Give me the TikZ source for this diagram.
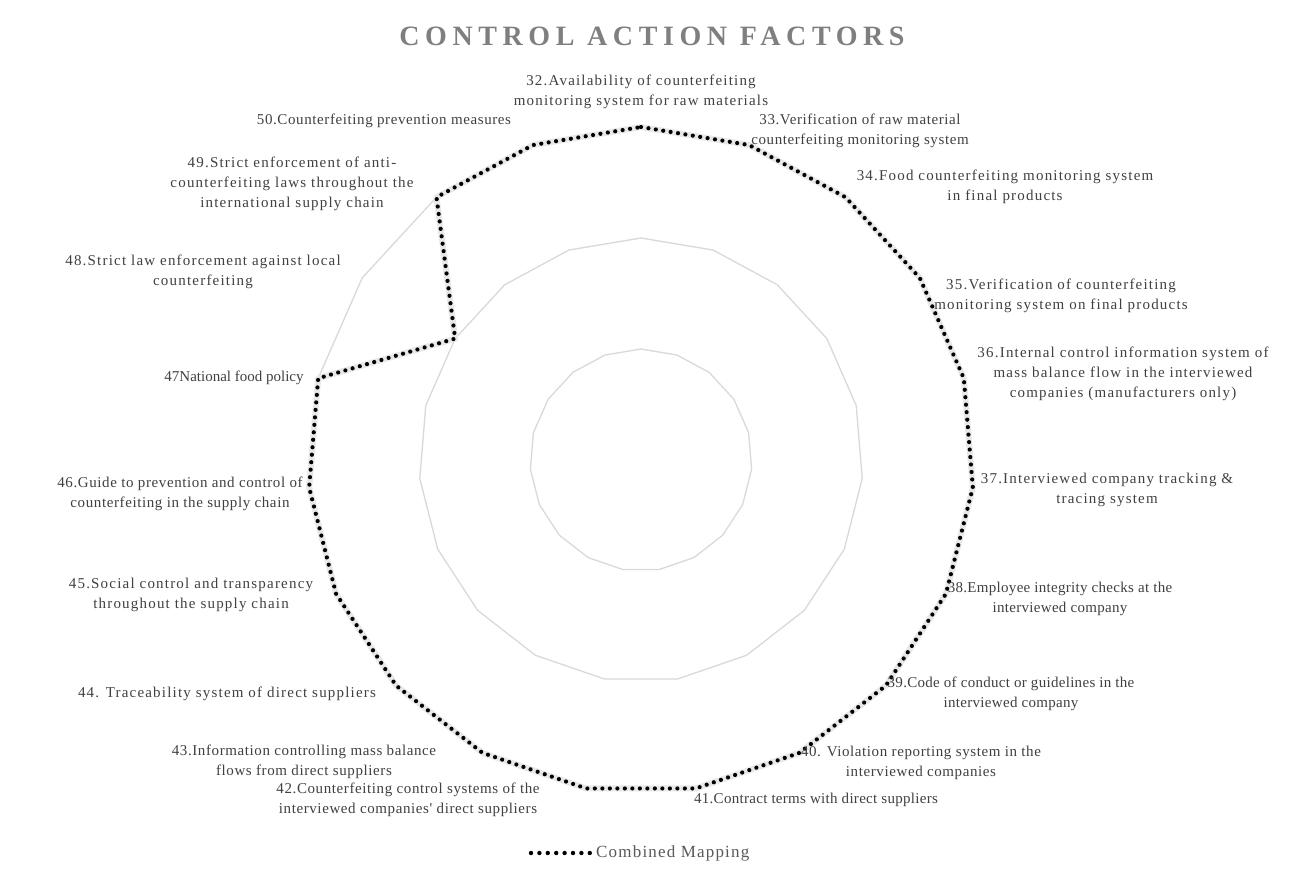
\documentclass[tikz,border=0pt]{standalone}
\usepackage{fontspec}
\setmainfont{Liberation Serif}
\newfontfamily\titlefont[LetterSpace=20]{Liberation Serif}
\newfontfamily\lblfont{Liberation Serif}
\usetikzlibrary{calc}
\definecolor{ringgray}{HTML}{D9D9D9}
\definecolor{labelgray}{HTML}{404040}
\definecolor{titlegray}{HTML}{7F7F7F}
\tikzset{
  ring/.style={draw=ringgray, line width=1.3pt, line join=round},
  dataline/.style={draw=black, line width=4.2pt, line cap=round, dash pattern=on 0pt off 7.5pt},
  datashadow/.style={draw=black!9, line width=6pt, line join=round},
  lbl/.style={text=labelgray, align=center, inner sep=0pt,
    font=\lblfont\addfontfeature{LetterSpace=#1}\fontsize{15}{20}\selectfont},
  lbl/.default=4,
}
\begin{document}
\begin{tikzpicture}[x=1pt,y=-1pt]
\useasboundingbox (0,0) rectangle (1289,868);
\fill[white] (0,0) rectangle (1289,868);
\coordinate (c) at (641,460);
% grid rings
\foreach \r in {111,222,333}{
  \draw[ring] ({641+\r*cos(90)},{460-\r*sin(90)})
    \foreach \k in {1,...,18}{ -- ({641+\r*cos(90-\k*360/19)},{460-\r*sin(90-\k*360/19)}) } -- cycle;
}
% data vertices
\foreach \k/\v in {0/3,1/3,2/3,3/3,4/3,5/3,6/3,7/3,8/3,9/3,10/3,11/3,12/3,13/3,14/3,15/3,16/2,17/3,18/3}{
  \coordinate (v\k) at ({641+111*\v*cos(90-\k*360/19)},{460-111*\v*sin(90-\k*360/19)});
}
\draw[datashadow, shift={(1.5,3)}] (v0) \foreach \k in {1,...,18}{ -- (v\k) } -- cycle;
\draw[dataline] (v0) \foreach \k in {1,...,18}{ -- (v\k) } -- cycle;
% title
\node[text=titlegray, font=\titlefont\bfseries\fontsize{28}{32}\selectfont] (title) at (652,36) {CONTROL ACTION FACTORS};
% labels
\node[lbl=8] (l32) at (641,92) {32.Availability of counterfeiting\\monitoring system for raw materials};
\node[lbl=4] (l33) at (860,131) {33.Verification of raw material\\counterfeiting monitoring system};
\node[lbl=8] (l34) at (1005,187) {34.Food counterfeiting monitoring system\\in final products};
\node[lbl=8] (l35) at (1061,296) {35.Verification of counterfeiting\\monitoring system on final products};
\node[lbl=8] (l36) at (1123,374) {36.Internal control information system of\\mass balance flow in the interviewed\\companies (manufacturers only)};
\node[lbl=8] (l37) at (1107,490) {37.Interviewed company tracking \&\\tracing system};
\node[lbl=2] (l38) at (1060,599) {38.Employee integrity checks at the\\interviewed company};
\node[lbl=2] (l39) at (1011,694) {39.Code of conduct or guidelines in the\\interviewed company};
\node[lbl=4] (l40) at (921,763) {40. Violation reporting system in the\\interviewed companies};
\node[lbl=2] (l41) at (816,800) {41.Contract terms with direct suppliers};
\node[lbl=4] (l42) at (408,800) {42.Counterfeiting control systems of the\\interviewed companies' direct suppliers};
\node[lbl=4] (l43) at (304,762) {43.Information controlling mass balance\\flows from direct suppliers};
\node[lbl=8] (l44) at (227,694) {44. Traceability system of direct suppliers};
\node[lbl=8] (l45) at (191,595) {45.Social control and transparency\\throughout the supply chain};
\node[lbl=4] (l46) at (180,494) {46.Guide to prevention and control of\\counterfeiting in the supply chain};
\node[lbl=0] (l47) at (234,378) {47National food policy};
\node[lbl=8] (l48) at (203,272) {48.Strict law enforcement against local\\counterfeiting};
\node[lbl=8] (l49) at (292,184) {49.Strict enforcement of anti-\\counterfeiting laws throughout the\\international supply chain};
\node[lbl=4] (l50) at (384,121) {50.Counterfeiting prevention measures};
% legend
\coordinate (lega) at (531,853);
\coordinate (legb) at (590,853);
\draw[dataline, line width=4.4pt, dash pattern=on 0pt off 8.4pt] (lega) -- (legb);
\node[lbl, anchor=west, text=black!65, font=\lblfont\addfontfeature{LetterSpace=7}\fontsize{17}{20}\selectfont] (legend) at (596,853) {Combined Mapping};
\end{tikzpicture}
\end{document}
